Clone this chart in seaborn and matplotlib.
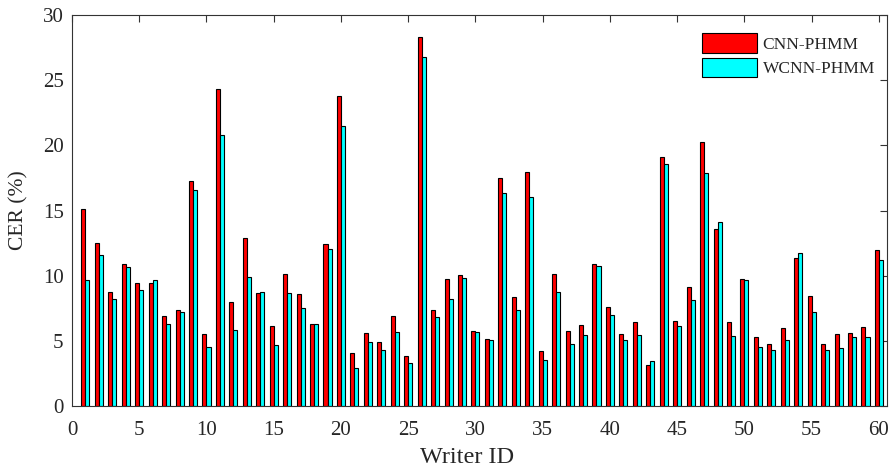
import pandas as pd
import numpy as np
import seaborn as sns
import matplotlib.pyplot as plt

writers = list(range(1, 61))
cnn_phmm = [15.09, 12.48, 8.75, 10.87, 9.41, 9.44, 6.91, 7.37, 17.26, 5.55,
            24.32, 7.98, 12.86, 8.67, 6.11, 10.15, 8.57, 6.29, 12.43, 23.79,
            4.09, 5.60, 4.91, 6.88, 3.84, 28.34, 7.37, 9.77, 10.03, 5.73,
            5.12, 17.47, 8.34, 17.93, 4.22, 10.10, 5.73, 6.24, 10.87, 7.57,
            5.52, 6.45, 3.12, 19.10, 6.50, 9.13, 20.26, 13.58, 6.45, 9.77,
            5.29, 4.78, 5.96, 11.33, 8.44, 4.76, 5.50, 5.60, 6.04, 12.00]
wcnn_phmm = [9.64, 11.61, 8.21, 10.66, 8.90, 9.69, 6.27, 7.19, 16.55, 4.55,
             20.77, 5.86, 9.90, 8.72, 4.68, 8.70, 7.49, 6.29, 12.05, 21.48,
             2.94, 4.91, 4.27, 5.68, 3.32, 26.80, 6.85, 8.24, 9.82, 5.65,
             5.06, 16.32, 7.34, 16.01, 3.50, 8.77, 4.76, 5.42, 10.74, 6.98,
             5.09, 5.42, 3.45, 18.57, 6.11, 8.11, 17.88, 14.12, 5.37, 9.64,
             4.53, 4.27, 5.04, 11.71, 7.21, 4.27, 4.48, 5.27, 5.32, 11.20]
methods = ['CNN-PHMM', 'WCNN-PHMM']

df = pd.DataFrame({
    'Writer ID': writers * 2,
    'CER': cnn_phmm + wcnn_phmm,
    'Method': [methods[0]] * 60 + [methods[1]] * 60,
})

sns.set_style('white')
plt.rcParams['font.family'] = ['Liberation Serif', 'DejaVu Serif']

fig = plt.figure(figsize=(8.91, 4.71), dpi=100)
ax = fig.add_axes([0.0808, 0.138, 0.9147, 0.830])

sns.barplot(data=df, x='Writer ID', y='CER', hue='Method', native_scale=True,
            width=0.6, palette=['#ff0000', '#00ffff'], saturation=1,
            edgecolor='black', linewidth=0.8, ax=ax)

ax.set_xlim(0, 60.6)
ax.set_ylim(0, 30)
ax.set_xticks(np.arange(0, 61, 5))
ax.set_yticks(np.arange(0, 31, 5))
ax.set_xlabel('Writer ID', fontsize=17.5, labelpad=3)
ax.set_ylabel('CER (%)', fontsize=15.5, labelpad=10)
ax.xaxis.set_label_coords(0.485, -0.105)
ax.tick_params(axis='both', labelsize=15, direction='in', length=5,
               top=True, right=True, color='#333333', width=0.8)
ax.tick_params(axis='x', pad=11)
ax.tick_params(axis='y', pad=6)
for s in ax.spines.values():
    s.set_color('#333333')
    s.set_linewidth(0.8)

leg = ax.legend(loc='upper left', fontsize=12.5, frameon=False,
                handlelength=3.15, handleheight=1.35, handletextpad=0.35,
                labelspacing=0.3, borderaxespad=0, borderpad=0,
                bbox_to_anchor=(0.773, 0.954))

fig.savefig('out.png', dpi=100)
